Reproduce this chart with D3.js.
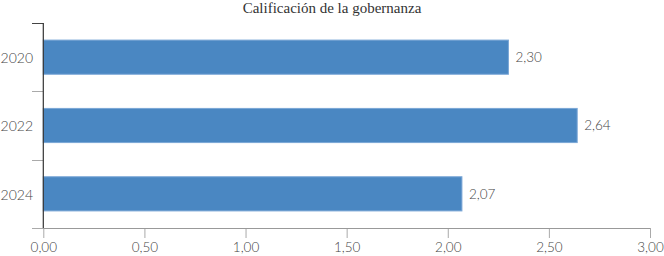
<!DOCTYPE html>
<html><head><meta charset="utf-8">
<script src="https://cdn.jsdelivr.net/npm/d3@7"></script>
<style>
html,body{margin:0;padding:0;background:#fff;}
svg{display:block;}
</style></head>
<body>
<svg id="c" width="664" height="256"></svg>
<script>
const title = "Calificación de la gobernanza";
const categories = ["2020", "2022", "2024"];
const values = [2.30, 2.64, 2.07];
const xTicks = [0, 0.5, 1, 1.5, 2, 2.5, 3];

const loc = d3.formatLocale({decimal: ",", thousands: ".", grouping: [3], currency: ["", "€"]});
const fmt = loc.format(".2f");

const svg = d3.select("#c");
const mLeft = 43.3, mRight = 650, mTop = 23, mBottom = 228;

const x = d3.scaleLinear().domain([0, 3]).range([mLeft, mRight]);
const y = d3.scaleBand().domain(categories).range([mTop, mBottom]).paddingInner(0.5).paddingOuter(0.25);

svg.append("text")
  .attr("x", 332).attr("y", 13)
  .attr("text-anchor", "middle")
  .attr("font-family", "Liberation Serif, serif")
  .attr("font-size", 15)
  .attr("fill", "#333")
  .text(title);

// X axis
const xg = svg.append("g").attr("transform", `translate(0,${mBottom})`)
  .call(d3.axisBottom(x).tickValues(xTicks).tickFormat(fmt).tickSize(10).tickSizeOuter(0));
xg.select(".domain").remove();
xg.selectAll(".tick line").attr("stroke", "#aaa");
xg.selectAll(".tick text").attr("font-family", "Lato, sans-serif").attr("font-weight", 300)
  .attr("font-size", 13.5).attr("fill", "#444").attr("y", 14.5).attr("dy", "0.71em");
svg.append("line").attr("x1", 32).attr("x2", mRight).attr("y1", mBottom + 0.5).attr("y2", mBottom + 0.5)
  .attr("stroke", "#999");

// Band boundary ticks
const bounds = [mTop].concat(categories.map(c => y(c) + y.bandwidth() + y.step() * y.paddingInner() / 2));
bounds[bounds.length - 1] = mBottom;
svg.selectAll(".bt").data(bounds).enter().append("line")
  .attr("x1", 32).attr("x2", mLeft).attr("y1", d => Math.round(d) + 0.5).attr("y2", d => Math.round(d) + 0.5)
  .attr("stroke", (d, i) => i === 0 ? "#444" : "#aaa");

// Bars
svg.selectAll(".bar").data(values).enter().append("rect")
  .attr("x", mLeft)
  .attr("y", (d, i) => y(categories[i]))
  .attr("width", d => x(d) - mLeft)
  .attr("height", y.bandwidth())
  .attr("fill", "#4a87c2")
  .attr("stroke", "#7ba7d6").attr("stroke-width", 1);

// Y axis line
svg.append("line").attr("x1", mLeft).attr("x2", mLeft).attr("y1", mTop).attr("y2", mBottom)
  .attr("stroke", "#333").attr("stroke-width", 1.2);

// Y labels
svg.selectAll(".yl").data(categories).enter().append("text")
  .attr("x", 33).attr("y", d => y(d) + y.bandwidth() / 2 + 1)
  .attr("dy", "0.35em").attr("text-anchor", "end")
  .attr("font-family", "Lato, sans-serif").attr("font-weight", 300)
  .attr("font-size", 14).attr("fill", "#444")
  .text(d => d);

// Value labels
svg.selectAll(".vl").data(values).enter().append("text")
  .attr("x", d => x(d) + 7).attr("y", (d, i) => y(categories[i]) + y.bandwidth() / 2)
  .attr("dy", "0.35em")
  .attr("font-family", "Lato, sans-serif").attr("font-weight", 300)
  .attr("font-size", 13.5).attr("fill", "#444")
  .text(d => fmt(d));
</script>
</body></html>
